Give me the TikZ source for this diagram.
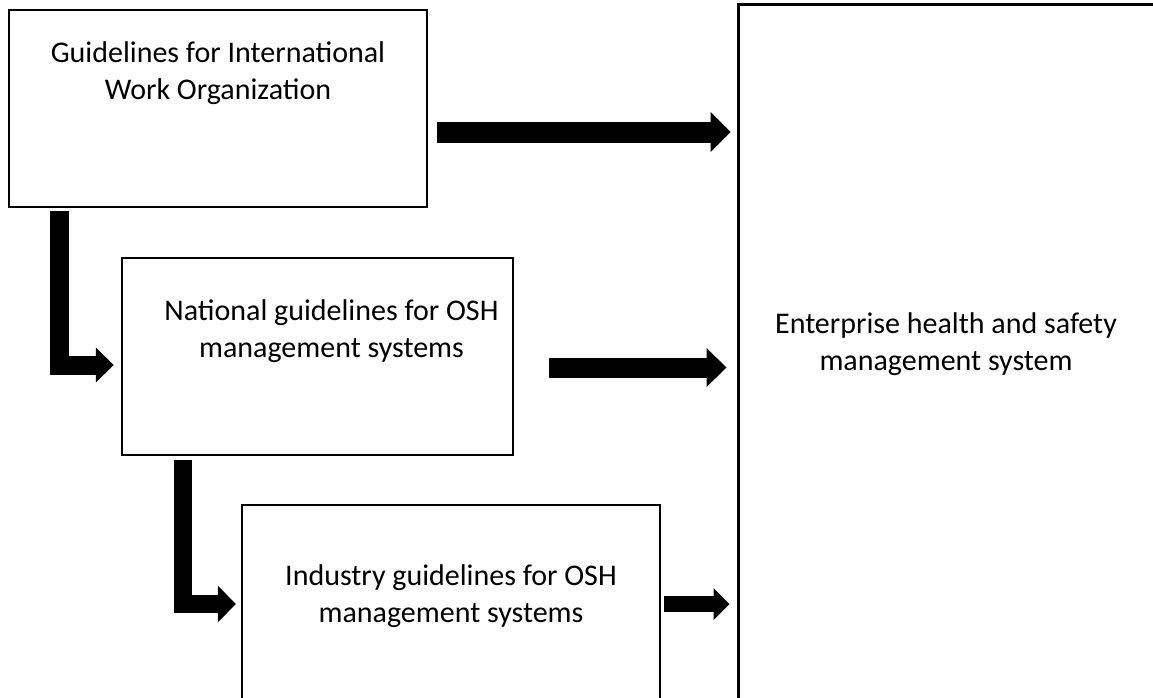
\documentclass[tikz,border=0pt]{standalone}
\usepackage{fontspec}
\setmainfont{Carlito}
\usetikzlibrary{arrows.meta,positioning}

\begin{document}
\begin{tikzpicture}[x=1pt, y=-1pt,
        every node/.append style={font=\fontsize{30pt}{37pt}\selectfont},
        fat/.style n args={3}{line width=#1, line cap=butt, line join=miter,
          -{Triangle[length=#2, width=#3, line width=0pt]}}]
      \tikzstyle{box} = [draw, line width=2.5pt, inner sep=0pt]
      \tikzstyle{words} = [inner sep=0pt, align=center]
      \clip (0,0) rectangle (1153,697);
      % boxes
      \node (intl) [box, minimum width=418pt, minimum height=197pt] at (218,108.5) {};
      \node (natl) [box, minimum width=391pt, minimum height=197pt] at (317.5,356.5) {};
      \node (indu) [box, minimum width=418pt, minimum height=205pt] at (451,607.5) {};
      \node (ent) [box, line width=3pt, minimum width=416pt, minimum height=740pt] at (946,374) {};
      % texts
      \node (intlText) [words, below=32.5pt of intl.north] {Guidelines for International\\Work Organization};
      \node (natlText) [words, below=42.5pt of natl.north, xshift=14pt] {National guidelines for OSH\\management systems};
      \node (induText) [words, below=60.5pt of indu.north] {Industry guidelines for OSH\\management systems};
      \node (entText) [words, below=309.5pt of ent.north] {Enterprise health and safety\\management system};
      % arrows
      \draw[fat={21pt}{20pt}{40pt}, shorten >=6pt] ([xshift=9pt, yshift=-23.5pt]intl.east) -- ([yshift=-23.5pt]intl.east -| ent.west);
      \draw[fat={20pt}{20pt}{39pt}, shorten >=10pt] ([xshift=35pt, yshift=-11pt]natl.east) -- ([yshift=-11pt]natl.east -| ent.west);
      \draw[fat={16pt}{16pt}{32pt}, shorten >=7pt] ([xshift=3pt, yshift=3.5pt]indu.east) -- ([yshift=3.5pt]indu.east -| ent.west);
      \draw[fat={19pt}{18pt}{35pt}, shorten >=7pt] ([xshift=52pt, yshift=-3pt]intl.south west) |- ([yshift=-8.5pt]natl.west);
      \draw[fat={18pt}{18pt}{37pt}, shorten >=5pt] ([xshift=62pt, yshift=-4pt]natl.south west) |- ([yshift=3.5pt]indu.west);
    \end{tikzpicture}
\end{document}
